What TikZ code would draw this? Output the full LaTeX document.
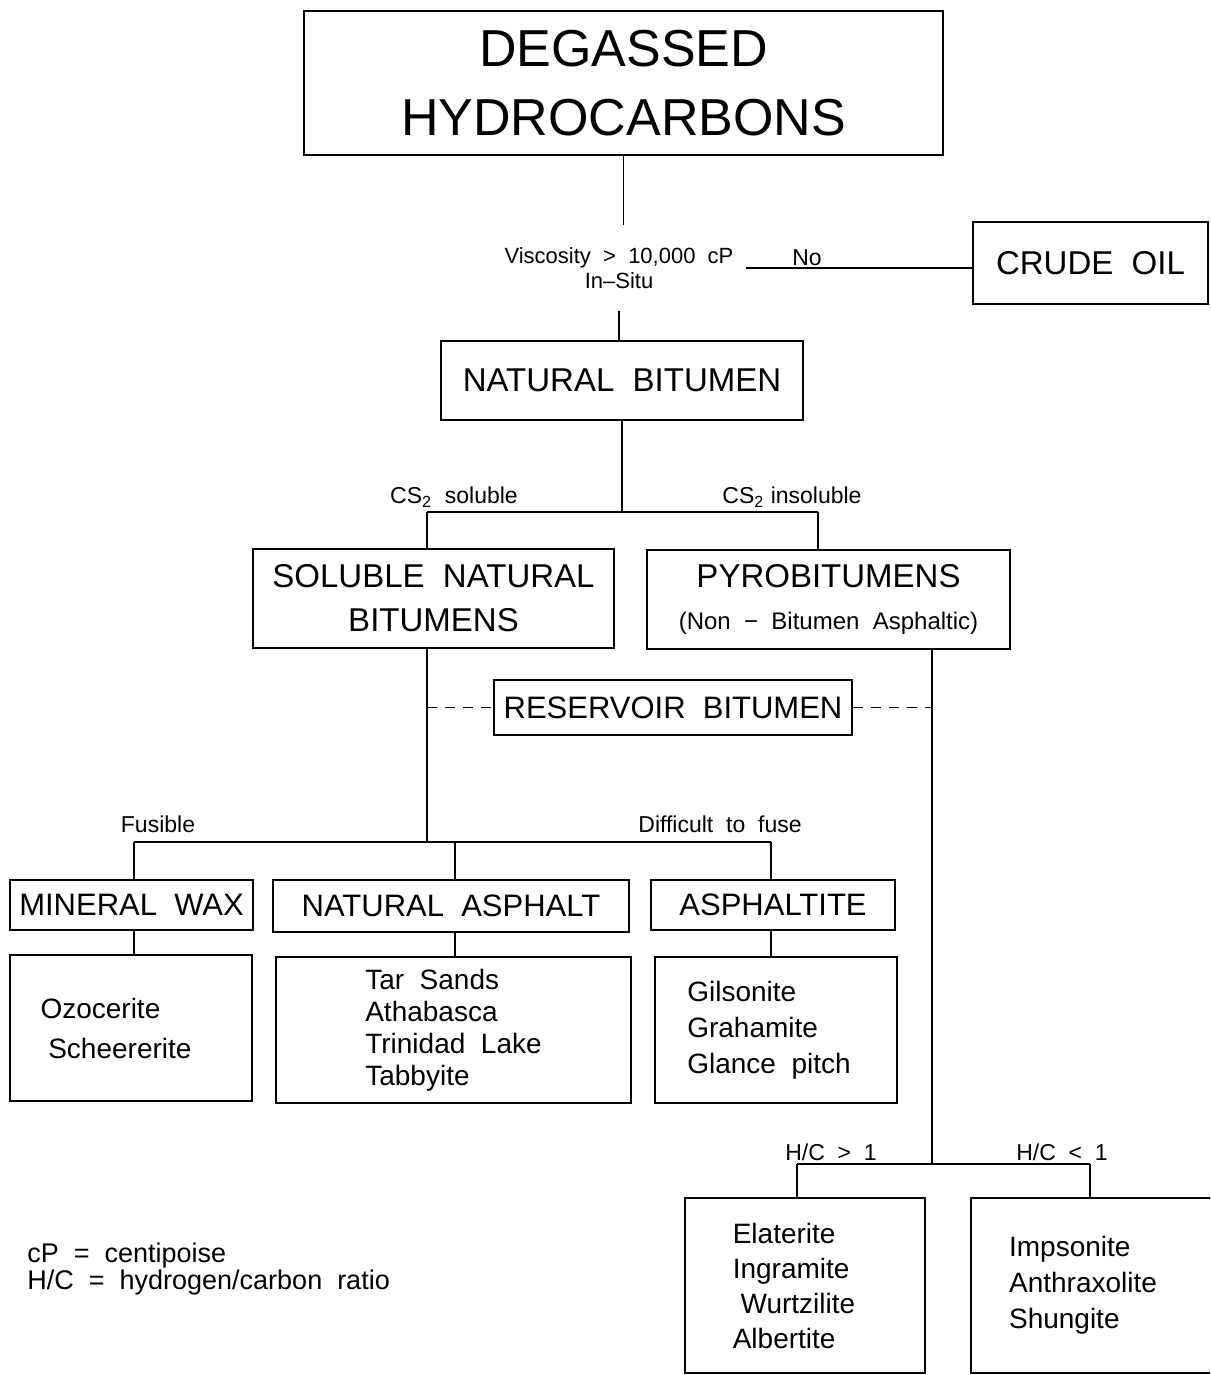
\documentclass[tikz,border=0pt]{standalone}
\usepackage{fontspec}
\setmainfont{Liberation Sans}
\tikzset{
    box/.style={draw, line width=0.7pt, inner sep=0pt, align=center},
    lbl/.style={inner sep=1pt, font=\fontsize{11.5}{13}\selectfont},
    bigfont/.style={font=\fontsize{16.5}{22}\selectfont},
    midfont/.style={font=\fontsize{15.5}{18}\selectfont},
    listfont/.style={align=left, font=\fontsize{14}{#1}\selectfont},
    conn/.style={line width=0.6pt},
    brokenline/.style={line width=0.6pt, dash pattern=on 5pt off 4pt},
}
\begin{document}
\begin{tikzpicture}[x=0.5pt, y=-0.5pt]
    \path[use as bounding box] (0,0) rectangle (1210,1375);
    \clip (0,0) rectangle (1210,1375);

    % 方框
    \node[box, minimum width=319.5pt, minimum height=72pt, font=\fontsize{26}{34.5}\selectfont] (top) at (623.5,83) {DEGASSED\\HYDROCARBONS};
    \node[lbl, align=center, inner xsep=6pt, inner ysep=11pt, font=\fontsize{11}{12.5}\selectfont] (vis) at (619,268) {Viscosity \ > \ 10,000 \ cP\\In--Situ};
    \node[box, bigfont, minimum width=117.5pt, minimum height=41pt] (crude) at (1090.5,263) {CRUDE\ \ OIL};
    \node[box, bigfont, minimum width=181pt, minimum height=39.5pt] (nb) at (622,380.5) {NATURAL\ \ BITUMEN};
    \node[box, bigfont, minimum width=180.5pt, minimum height=49.5pt] (sol) at (433.5,598.5) {SOLUBLE\ \ NATURAL\\BITUMENS};
    \node[box, bigfont, minimum width=181.5pt, minimum height=49.5pt] (pyro) at (828.5,599.5) {PYROBITUMENS\\[-1pt]{\fontsize{12}{14}\selectfont (Non \ − \ Bitumen \ Asphaltic)}};
    \node[box, midfont, minimum width=179pt, minimum height=27.5pt] (res) at (673,707.5) {RESERVOIR\ \ BITUMEN};
    \node[box, midfont, minimum width=121.5pt, minimum height=25pt] (wax) at (131.5,905) {MINERAL\ \ WAX};
    \node[box, midfont, minimum width=178pt, minimum height=26pt] (asph) at (451,906) {NATURAL\ \ ASPHALT};
    \node[box, midfont, minimum width=122pt, minimum height=25pt] (aspt) at (773,905) {ASPHALTITE};

    % 列表
    \node[box, listfont=20, minimum width=121pt, minimum height=73pt] (l1) at (131,1028) {Ozocerite\\\ Scheererite\hspace*{15pt}};
    \node[box, listfont=16, minimum width=177.5pt, minimum height=73pt] (l2) at (453.5,1030) {Tar\ \ Sands\\Athabasca\\Trinidad\ \ Lake\\Tabbyite};
    \node[box, listfont=18, minimum width=121pt, minimum height=73pt] (l3) at (776,1030) {Gilsonite\\Grahamite\\Glance\ \ pitch\hspace*{7pt}};
    \node[box, listfont=17.5, minimum width=120pt, minimum height=87.5pt] (l4) at (805,1285.5) {Elaterite\\Ingramite\\\ Wurtzilite\hspace*{11pt}\null\\Albertite};
    \node[box, listfont=18, minimum width=129pt, minimum height=87.5pt] (l5) at (1100,1285.5) {Impsonite\\Anthraxolite\hspace*{17pt}\null\\Shungite};

    % 连线
    \draw[conn] (top.south) -- (top.south |- vis.north);
    \draw[conn] (vis.east) -- (vis.east -| crude.west) node[lbl, pos=0.27, above] (no) {No};
    \draw[conn] (vis.south) -- (vis.south |- nb.north);

    \coordinate (s1) at (427,512);
    \coordinate (s2) at (818,512);
    \draw[conn] (nb.south) -- (nb.south |- s1);
    \draw[conn] (s1) -- (s2);
    \draw[conn] (s1) -- (s1 |- sol.north);
    \draw[conn] (s2) -- (s2 |- pyro.north);
    \node[lbl] (cs1) at (454,497) {CS\textsubscript{2}\ \ soluble};
    \node[lbl] (cs2) at (792,497) {CS\textsubscript{2} insoluble};

    \coordinate (f0) at (427,842);
    \coordinate (f1) at (134,842);
    \coordinate (f2) at (455,842);
    \coordinate (f3) at (771,842);
    \draw[conn] (f0 |- sol.south) -- (f0);
    \draw[conn] (f1) -- (f3);
    \draw[conn] (f1) -- (f1 |- wax.north);
    \draw[conn] (f2) -- (f2 |- asph.north);
    \draw[conn] (f3) -- (f3 |- aspt.north);
    \draw[conn] (f1 |- wax.south) -- (f1 |- l1.north);
    \draw[conn] (f2 |- asph.south) -- (f2 |- l2.north);
    \draw[conn] (f3 |- aspt.south) -- (f3 |- l3.north);
    \node[lbl] (fus) at (158,824) {Fusible};
    \node[lbl] (dif) at (720,824) {Difficult \ to \ fuse};

    \coordinate (h0) at (932,1164);
    \coordinate (h1) at (797,1164);
    \coordinate (h2) at (1090,1164);
    \draw[conn] (h0 |- pyro.south) -- (h0);
    \draw[brokenline] (f0 |- res.west) -- (res.west);
    \draw[brokenline] (res.east) -- (res.east -| h0);
    \draw[conn] (h1) -- (h2);
    \draw[conn] (h1) -- (h1 |- l4.north);
    \draw[conn] (h2) -- (h2 |- l5.north);
    \node[lbl] (hc1) at (831,1152) {H/C \ > \ 1};
    \node[lbl] (hc2) at (1062,1152) {H/C \ < \ 1};

    % 说明
    \node[lbl, align=left, anchor=west, font=\fontsize{13.5}{12.5}\selectfont] (leg) at (25,1269) {cP \ = \ centipoise\\H/C \ = \ hydrogen/carbon \ ratio};
\end{tikzpicture}
\end{document}
